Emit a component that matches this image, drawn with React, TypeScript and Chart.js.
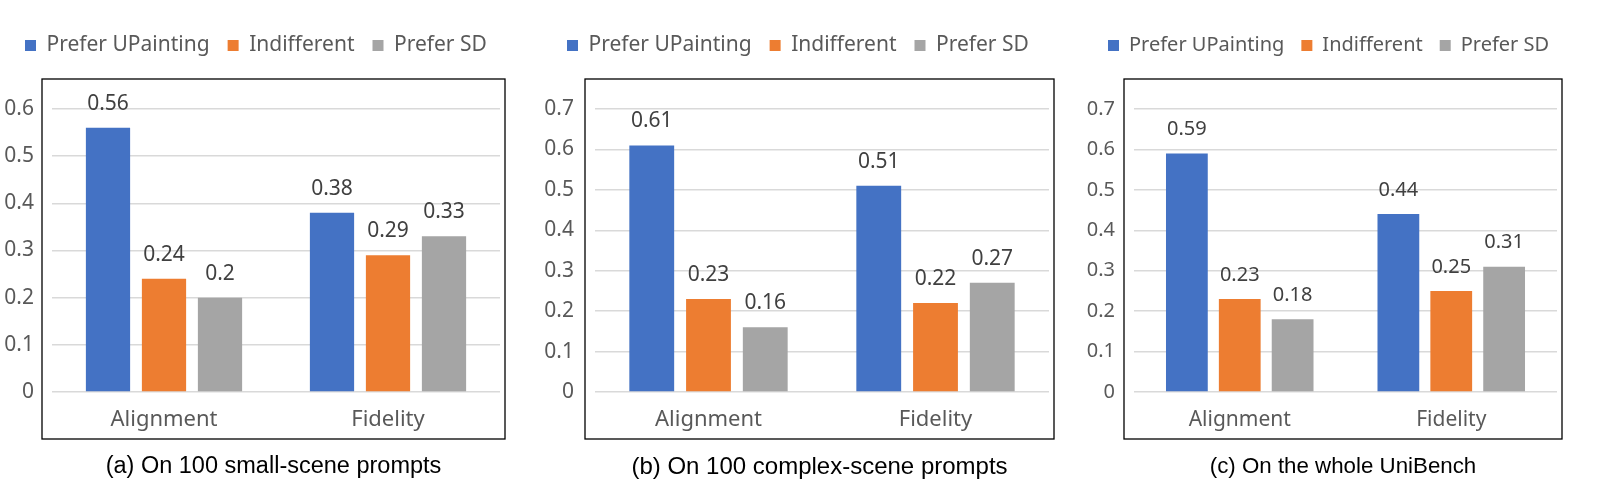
import React, { useEffect, useRef } from 'react';
import { Chart, registerables } from 'chart.js';

Chart.register(...registerables);

// data
const categories = ['Alignment', 'Fidelity'];
const seriesNames = ['Prefer UPainting', 'Indifferent', 'Prefer SD'];
const seriesColors = ['#4472C4', '#ED7D31', '#A5A5A5'];

const smallUPainting = [0.56, 0.38];
const smallIndifferent = [0.24, 0.29];
const smallSD = [0.2, 0.33];

const complexUPainting = [0.61, 0.51];
const complexIndifferent = [0.23, 0.22];
const complexSD = [0.16, 0.27];

const wholeUPainting = [0.59, 0.44];
const wholeIndifferent = [0.23, 0.25];
const wholeSD = [0.18, 0.31];

const captions = [
  '(a) On 100 small-scene prompts',
  '(b) On 100 complex-scene prompts',
  '(c) On the whole UniBench',
];

const FONT = "'Noto Sans', sans-serif";
const AREA_TOP = 109;
const AREA_BOTTOM = 392;
const H = 488;

interface PanelProps {
  series: number[][];
  yMax: number;
  caption: string;
  left: number;
  width: number;
  axisWidth: number;
  tickPad: number;
  padRight: number;
  fs: number;
  captionSize: number;
  legendStart: number;
  legendPad: number;
}

// frame, value labels and caption
const framePlugin = {
  id: 'frame',
  afterDatasetsDraw(chart: any, _args: any, opts: any) {
    const { ctx, chartArea } = chart;
    ctx.save();
    ctx.font = `${opts.fs}px ${FONT}`;
    ctx.fillStyle = '#404040';
    ctx.textAlign = 'center';
    ctx.textBaseline = 'middle';
    chart.data.datasets.forEach((ds: any, i: number) => {
      chart.getDatasetMeta(i).data.forEach((bar: any, j: number) => {
        ctx.fillText(String(ds.data[j]), bar.x, bar.y - 24);
      });
    });
    ctx.strokeStyle = '#000';
    ctx.lineWidth = 1.3;
    const x0 = chartArea.left - 10;
    const y0 = chartArea.top - 30;
    const x1 = chartArea.right + 5;
    const y1 = chartArea.bottom + 47;
    ctx.strokeRect(x0, y0, x1 - x0, y1 - y0);
    ctx.font = `${opts.captionSize}px 'Liberation Sans', Arial, sans-serif`;
    ctx.fillStyle = '#000';
    ctx.fillText(opts.caption, (x0 + x1) / 2, chartArea.bottom + 75);
    ctx.restore();
  },
};

// keeps the legend on one row, pins its start and reserves space down to the plot
const legendPlacer = {
  id: 'legendPlacer',
  beforeInit(chart: any, _args: any, opts: any) {
    const legend = chart.legend;
    if (!legend) return;
    const fit = legend.fit;
    legend.fit = function () {
      const mw = this.maxWidth;
      this.maxWidth = 3000;
      fit.call(this);
      this.maxWidth = mw;
      this.width = Math.min(this.width, mw);
      this.height = opts.height;
    };
  },
  afterLayout(chart: any, _args: any, opts: any) {
    const legend = chart.legend;
    if (!legend) return;
    legend.left = opts.start - opts.pad;
    legend.right = chart.width + 1000;
  },
};

const Panel: React.FC<PanelProps> = (p) => {
  const canvasRef = useRef<HTMLCanvasElement>(null);
  const chartRef = useRef<Chart | null>(null);

  useEffect(() => {
    if (!canvasRef.current) return;
    if (chartRef.current) chartRef.current.destroy();

    const legendTop = 45.5 - p.legendPad - p.fs / 2;
    const xAxisHeight = 50;

    chartRef.current = new Chart(canvasRef.current, {
      type: 'bar',
      data: {
        labels: categories,
        datasets: p.series.map((values, i) => ({
          label: seriesNames[i],
          data: values,
          backgroundColor: seriesColors[i],
          categoryPercentage: 0.75,
          barPercentage: 0.79,
        })),
      },
      options: {
        responsive: false,
        animation: false,
        layout: {
          padding: { top: legendTop, bottom: H - AREA_BOTTOM - xAxisHeight, left: 0, right: p.padRight },
        },
        scales: {
          x: {
            afterFit: (s: any) => {
              s.height = xAxisHeight;
            },
            grid: { display: false, drawTicks: false },
            border: { display: false },
            ticks: { color: '#595959', font: { family: FONT, size: p.fs + 1 }, padding: 15 },
          },
          y: {
            min: 0,
            max: p.yMax,
            afterFit: (s: any) => {
              s.width = p.axisWidth;
            },
            grid: { color: '#D9D9D9', lineWidth: 1.5, drawTicks: false },
            border: { display: false },
            ticks: {
              stepSize: 0.1,
              padding: p.tickPad,
              color: '#595959',
              font: { family: FONT, size: p.fs },
              callback: (v: any) => String(Number(Number(v).toFixed(1))),
            },
          },
        },
        plugins: {
          legend: {
            position: 'top',
            align: 'start',
            labels: {
              boxWidth: 11,
              boxHeight: 11,
              padding: p.legendPad,
              color: '#595959',
              font: { family: FONT, size: p.fs },
            },
          },
          tooltip: { enabled: false },
          legendPlacer: { height: AREA_TOP - legendTop, start: p.legendStart, pad: p.legendPad },
          frame: { caption: p.caption, fs: p.fs, captionSize: p.captionSize },
        } as any,
      },
      plugins: [legendPlacer, framePlugin],
    });

    return () => {
      if (chartRef.current) {
        chartRef.current.destroy();
        chartRef.current = null;
      }
    };
  }, [p.series, p.yMax, p.caption]);

  return (
    <div style={{ position: 'absolute', left: p.left, top: 0, width: p.width, height: H }}>
      <canvas ref={canvasRef} width={p.width} height={H} />
    </div>
  );
};

const App: React.FC = () => {
  useEffect(() => {
    document.body.style.margin = '0';
    document.documentElement.style.overflow = 'hidden';
  }, []);

  return (
    <div style={{ position: 'absolute', left: 0, top: 0, width: 1599, height: H, background: '#fff', overflow: 'hidden' }}>
      <Panel
        series={[smallUPainting, smallIndifferent, smallSD]}
        yMax={0.6}
        caption={captions[0]}
        left={0}
        width={530}
        axisWidth={52}
        tickPad={18}
        padRight={30}
        fs={21}
        captionSize={23.5}
        legendStart={25}
        legendPad={18}
      />
      <Panel
        series={[complexUPainting, complexIndifferent, complexSD]}
        yMax={0.7}
        caption={captions[1]}
        left={533}
        width={533}
        axisWidth={62}
        tickPad={21}
        padRight={17}
        fs={21}
        captionSize={24}
        legendStart={34}
        legendPad={18}
      />
      <Panel
        series={[wholeUPainting, wholeIndifferent, wholeSD]}
        yMax={0.7}
        caption={captions[2]}
        left={1066}
        width={533}
        axisWidth={68}
        tickPad={19}
        padRight={42}
        fs={20}
        captionSize={22.3}
        legendStart={42}
        legendPad={17}
      />
    </div>
  );
};

export default App;
